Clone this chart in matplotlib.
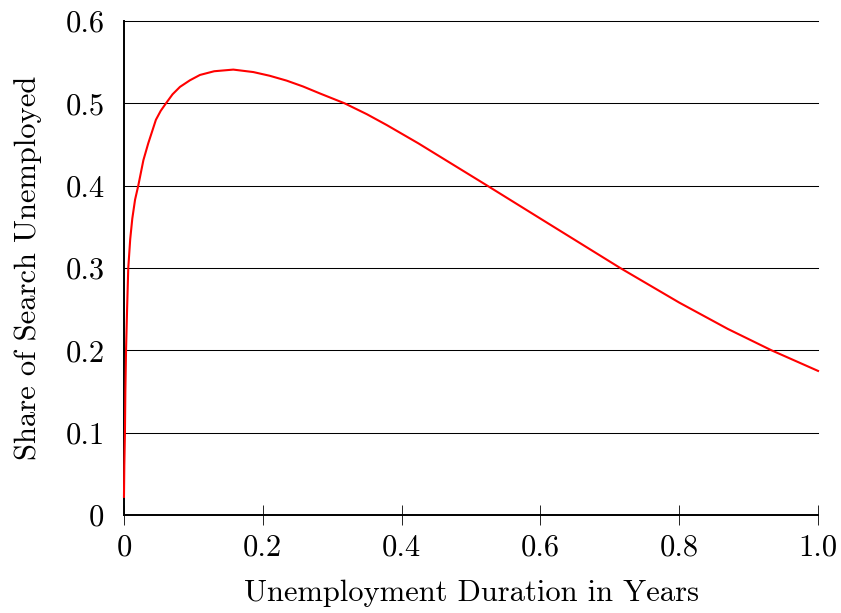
import matplotlib
matplotlib.use('Agg')
import matplotlib.pyplot as plt

# values
duration = [0.0, 0.0005, 0.0014, 0.002, 0.003, 0.0045, 0.0062, 0.009, 0.012, 0.016,
            0.0206, 0.028, 0.035, 0.041, 0.046, 0.053, 0.0605, 0.07, 0.0807, 0.095,
            0.1095, 0.13, 0.1575, 0.1864, 0.21, 0.2344, 0.258, 0.2824, 0.318, 0.35,
            0.3785, 0.424, 0.5235, 0.6, 0.715, 0.8, 0.87, 0.933, 1.0]
share = [0.022, 0.06, 0.10, 0.15, 0.20, 0.25, 0.30, 0.335, 0.36, 0.383,
         0.40, 0.431, 0.4515, 0.467, 0.48, 0.491, 0.50, 0.511, 0.520, 0.528,
         0.5345, 0.539, 0.541, 0.538, 0.5335, 0.5276, 0.5205, 0.512, 0.50, 0.4868,
         0.4737, 0.4515, 0.40, 0.36, 0.30, 0.258, 0.226, 0.20, 0.175]

xticks = [0, 0.2, 0.4, 0.6, 0.8, 1.0]
xlabels = ['0', '0.2', '0.4', '0.6', '0.8', '1.0']
yticks = [0, 0.1, 0.2, 0.3, 0.4, 0.5, 0.6]
ylabels = ['0', '0.1', '0.2', '0.3', '0.4', '0.5', '0.6']

plt.rcParams['font.family'] = ['cmr10', 'DejaVu Serif']
plt.rcParams['axes.formatter.use_mathtext'] = True

fig = plt.figure(figsize=(8.41, 6.13), dpi=100)
ax = fig.add_axes([0.1474, 0.1599, 0.8253, 0.8058])

ax.plot(duration, share, color='#ff0000', linewidth=1.5, zorder=5, clip_on=False,
        solid_joinstyle='round')

ax.set_xlim(0, 1.0)
ax.set_ylim(0, 0.6)
ax.set_xticks(xticks)
ax.set_xticklabels(xlabels)
ax.set_yticks(yticks)
ax.set_yticklabels(ylabels)

for y in yticks[1:]:
    ax.axhline(y, color='black', linewidth=0.75, zorder=1, clip_on=False)

ax.spines['top'].set_visible(False)
ax.spines['right'].set_visible(False)
ax.spines['left'].set_linewidth(1.4)
ax.spines['bottom'].set_linewidth(1.4)

ax.tick_params(axis='x', direction='inout', length=15, width=0.6, pad=6, labelsize=22)
ax.tick_params(axis='y', length=0, pad=14, labelsize=22)

ax.set_xlabel('Unemployment Duration in Years', fontsize=22, labelpad=13)
ax.set_ylabel('Share of Search Unemployed', fontsize=22, labelpad=17)

plt.savefig('out.png', dpi=100)
